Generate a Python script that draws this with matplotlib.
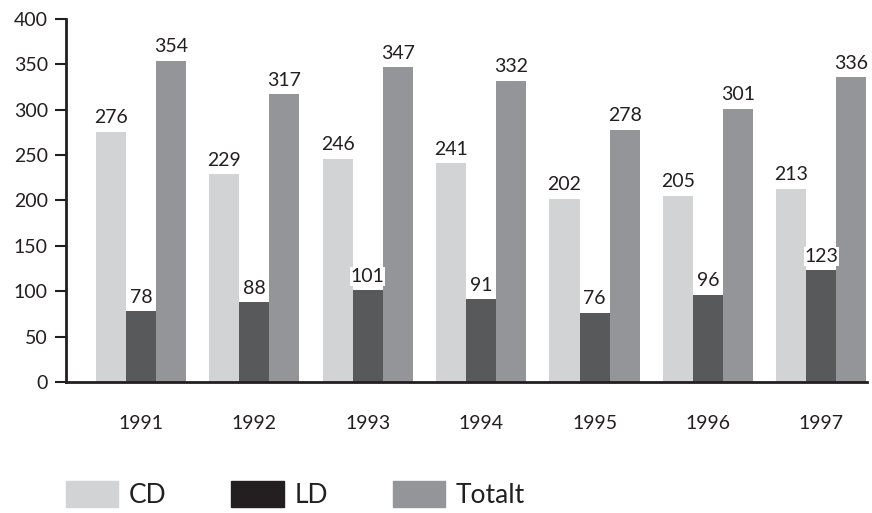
import numpy as np
import matplotlib.pyplot as plt
from matplotlib.patches import Patch

years = ['1991', '1992', '1993', '1994', '1995', '1996', '1997']
cd = [276, 229, 246, 241, 202, 205, 213]
ld = [78, 88, 101, 91, 76, 96, 123]
totalt = [354, 317, 347, 332, 278, 301, 336]

plt.rcParams['font.family'] = ['Lato', 'DejaVu Sans']

fig = plt.figure(figsize=(8.72, 5.13), dpi=100)
ax = fig.add_axes([0.0757, 0.2554, 0.9183, 0.7076])

x = np.arange(len(years))
w = 0.265
colors = ['#d1d3d4', '#58595b', '#939598']
for i, (vals, c) in enumerate(zip([cd, ld, totalt], colors)):
    bars = ax.bar(x + (i - 1) * w, vals, w, color=c)
    ax.bar_label(bars, padding=4, fontsize=14, color='#231f20',
                 bbox=dict(facecolor='white', edgecolor='none', pad=0.5))

ax.set_xlim(-0.66, 6.4)
ax.set_ylim(0, 400)
ax.set_yticks(range(0, 401, 50))
ax.set_xticks(x)
ax.set_xticklabels(years)
ax.tick_params(axis='x', length=0, pad=24, labelsize=14, labelcolor='#231f20')
ax.tick_params(axis='y', length=8, width=1.5, direction='out', pad=5,
               labelsize=14, labelcolor='#231f20', color='#231f20')
for s in ['top', 'right']:
    ax.spines[s].set_visible(False)
for s in ['left', 'bottom']:
    ax.spines[s].set_linewidth(2)
    ax.spines[s].set_color('#231f20')

handles = [Patch(color='#d1d3d4'), Patch(color='#231f20'), Patch(color='#939598')]
fig.legend(handles, ['CD', 'LD', 'Totalt'], ncol=3, loc='lower left',
           bbox_to_anchor=(0.048, -0.037), frameon=False, fontsize=19,
           handlelength=2.0, handleheight=1.15, handletextpad=0.4,
           columnspacing=2.45, labelcolor='#231f20')

fig.savefig('out.png', dpi=100)
